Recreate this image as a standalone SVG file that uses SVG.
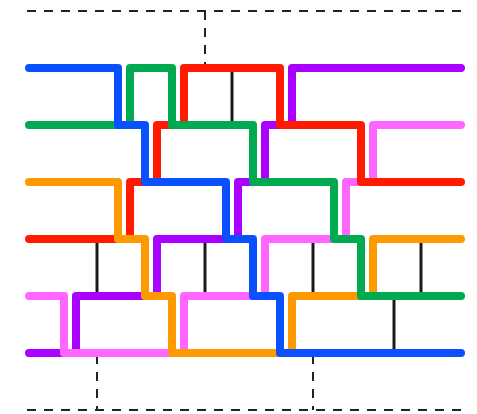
<svg xmlns="http://www.w3.org/2000/svg" width="477" height="414" viewBox="0 0 477 414">
<style>
.w{fill:none;stroke-width:8;stroke-linecap:round;stroke-linejoin:round}
.rung{stroke:#1a1a1a;stroke-width:3;fill:none}
.dash{stroke:#222;stroke-width:2;fill:none;stroke-dasharray:9 8}
</style>
<rect width="477" height="414" fill="#fff"/>
<g id="frame">
<path class="dash" d="M27,11 H464"/>
<path class="dash" d="M27,410 H464"/>
<path class="dash" d="M205,11 V66"/>
<path class="dash" d="M97,355 V410"/>
<path class="dash" d="M313,355 V410"/>
</g>
<g id="connectors">
<path class="rung" d="M232,68 V125"/>
<path class="rung" d="M97,239 V296"/>
<path class="rung" d="M205,239 V296"/>
<path class="rung" d="M313,239 V296"/>
<path class="rung" d="M421,239 V296"/>
<path class="rung" d="M394,296 V353"/>
</g>
<g id="purple"><path class="w" stroke="#aa00ff" d="M29,353 H76 V296 H157 V239 H238 V182 H265 V125 H292 V68 H461"/></g>
<g id="pink"><path class="w" stroke="#ff66ff" d="M29,296 H64 V353 H184 V296 H265 V239 H346 V182 H373 V125 H461"/></g>
<g id="red"><path class="w" stroke="#ff1a00" d="M29,239 H130 V182 H157 V125 H184 V68 H280 V125 H361 V182 H461"/></g>
<g id="orange"><path class="w" stroke="#ff9900" d="M29,182 H118 V239 H145 V296 H172 V353 H292 V296 H373 V239 H461"/></g>
<g id="green"><path class="w" stroke="#00aa50" d="M29,125 H130 V68 H172 V125 H253 V182 H334 V239 H361 V296 H461"/></g>
<g id="blue"><path class="w" stroke="#0a50ff" d="M29,68 H118 V125 H145 V182 H226 V239 H253 V296 H280 V353 H461"/></g>
</svg>
